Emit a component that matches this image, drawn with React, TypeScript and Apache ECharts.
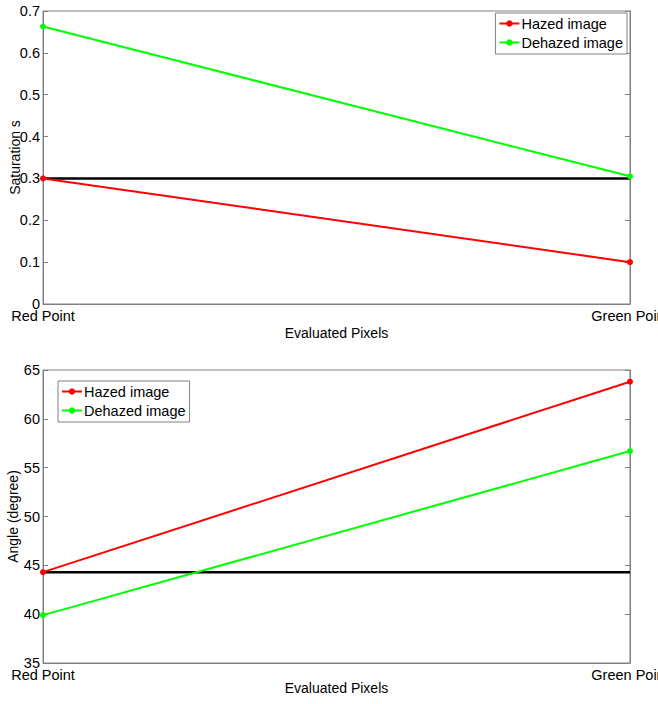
import React, { useEffect, useRef } from "react";
import * as echarts from "echarts";

const categories = ["Red Point", "Green Point"];
const satHazed = [0.3, 0.1];
const satDehazed = [0.663, 0.305];
const satRef = [0.3, 0.3];
const angHazed = [44.3, 63.8];
const angDehazed = [39.9, 56.7];
const angRef = [44.3, 44.3];

const FONT = "'Liberation Sans', Arial, sans-serif";
const RED = "#ff0000";
const GREEN = "#00ff00";

export default function App() {
  const ref = useRef<HTMLDivElement>(null);
  useEffect(() => {
    const chart = echarts.init(ref.current!, null, { renderer: "svg" });
    const txt = { fontFamily: FONT, fontSize: 14, color: "#000" };
    const xAxisBase = (gridIndex: number, gap: number) => ({
      type: "category",
      gridIndex,
      data: categories,
      boundaryGap: false,
      axisLine: { show: true, lineStyle: { color: "#808080" } },
      axisTick: { show: false },
      axisLabel: { ...txt, fontSize: 14.5, margin: 4, showMaxLabel: true, showMinLabel: true, interval: 0, hideOverlap: false },
      name: "Evaluated Pixels",
      nameLocation: "middle",
      nameGap: gap,
      nameMoveOverlap: false,
      nameTextStyle: txt,
      splitLine: { show: false },
    });
    const yLeft = (gridIndex: number, min: number, max: number, interval: number, name: string, dec: number, gap: number) => ({
      type: "value",
      gridIndex,
      min,
      max,
      interval,
      position: "left",
      axisLine: { show: true, lineStyle: { color: "#808080" } },
      axisTick: { show: true, inside: true, length: 5, lineStyle: { color: "#808080" } },
      axisLabel: {
        ...txt,
        fontSize: 14.5,
        margin: 3,
        hideOverlap: false,
        formatter: (v: number) => (dec > 0 ? (v === 0 ? "0" : v.toFixed(dec)) : String(v)),
      },
      splitLine: { show: false },
      name,
      nameLocation: "middle",
      nameGap: gap,
      nameMoveOverlap: false,
      nameTextStyle: txt,
    });
    const yRight = (gridIndex: number, min: number, max: number, interval: number) => ({
      type: "value",
      gridIndex,
      min,
      max,
      interval,
      position: "right",
      axisLine: { show: true, lineStyle: { color: "#808080" } },
      axisTick: { show: true, inside: true, length: 5, lineStyle: { color: "#808080" } },
      axisLabel: { show: false },
      splitLine: { show: false },
    });
    const lineSeries = (name: string, data: number[], color: string, xi: number, yi: number) => ({
      type: "line",
      name,
      data,
      xAxisIndex: xi,
      yAxisIndex: yi,
      symbol: "circle",
      symbolSize: 6,
      lineStyle: { color, width: 2 },
      itemStyle: { color },
      z: 3,
    });
    const refSeries = (data: number[], xi: number, yi: number) => ({
      type: "line",
      name: "ref",
      data,
      xAxisIndex: xi,
      yAxisIndex: yi,
      symbol: "none",
      lineStyle: { color: "#000", width: 2.5 },
      itemStyle: { color: "#000" },
      z: 2,
    });
    const legendBase = {
      orient: "vertical",
      backgroundColor: "#fff",
      borderColor: "#808080",
      borderWidth: 1,
      borderRadius: 0,
      padding: [3, 4, 4, 3],
      itemGap: 4,
      itemWidth: 20,
      itemHeight: 8,
      textStyle: { ...txt, fontSize: 14.5, padding: [0, 0, 0, -3] },
      data: ["Hazed image", "Dehazed image"],
      selectedMode: false,
    };
    chart.setOption({
      animation: false,
      backgroundColor: "#fff",
      grid: [
        { left: 43, top: 11, width: 587, height: 293, show: true, borderColor: "#808080", borderWidth: 1, backgroundColor: "#fff", containLabel: false, outerBoundsMode: "none" },
        { left: 43, top: 370, width: 587, height: 293, show: true, borderColor: "#808080", borderWidth: 1, backgroundColor: "#fff", containLabel: false, outerBoundsMode: "none" },
      ],
      legend: [
        { ...legendBase, right: 31, top: 13 },
        { ...legendBase, left: 58, top: 381 },
      ],
      xAxis: [xAxisBase(0, 22), xAxisBase(1, 18)],
      yAxis: [
        yLeft(0, 0, 0.7, 0.1, "Saturation s", 1, 21),
        yRight(0, 0, 0.7, 0.1),
        yLeft(1, 35, 65, 5, "Angle (degree)", 0, 23),
        yRight(1, 35, 65, 5),
      ],
      series: [
        refSeries(satRef, 0, 0),
        lineSeries("Hazed image", satHazed, RED, 0, 0),
        lineSeries("Dehazed image", satDehazed, GREEN, 0, 0),
        refSeries(angRef, 1, 2),
        lineSeries("Hazed image", angHazed, RED, 1, 2),
        lineSeries("Dehazed image", angDehazed, GREEN, 1, 2),
      ],
    });
    return () => chart.dispose();
  }, []);
  return (
    <div
      ref={ref}
      style={{ position: "absolute", left: 0, top: 0, width: 658, height: 704, background: "#fff" }}
    />
  );
}
